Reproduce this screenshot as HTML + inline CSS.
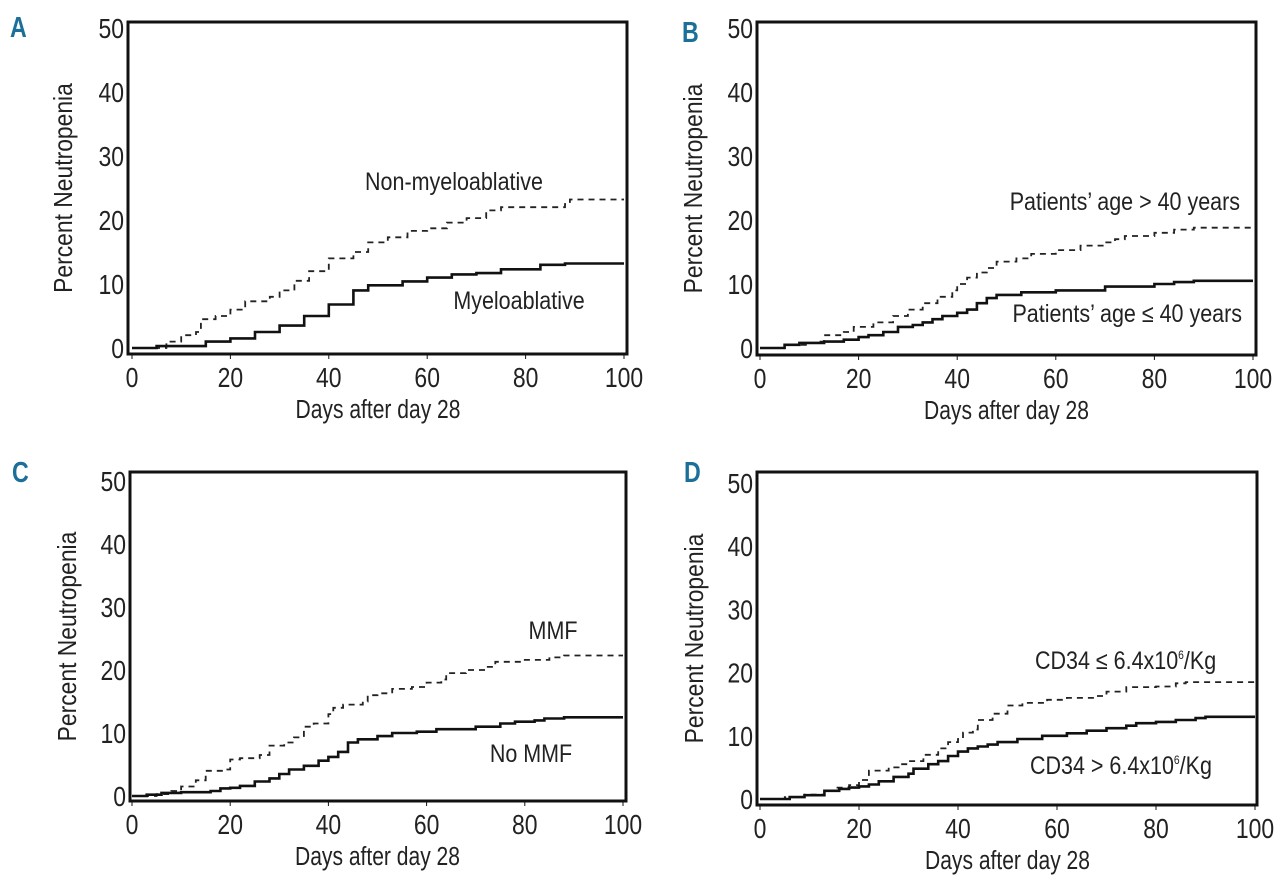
<!DOCTYPE html>
<html><head><meta charset="utf-8"><style>
html,body{margin:0;padding:0;background:#fff;}
svg{display:block;}
text{font-family:"Liberation Sans Narrow","Liberation Sans",sans-serif;fill:#222;}
.tick{font-size:28px;}
.title{font-size:26px;}
.lab{font-size:25px;}
.letter{font-family:"Liberation Sans Narrow","Liberation Sans",sans-serif;font-weight:bold;font-size:29px;fill:#1c6f98;}
</style></head><body>
<svg id="chart" width="1280" height="875" viewBox="0 0 1280 875" xmlns="http://www.w3.org/2000/svg"></svg>
<script>
const xTicks=[0,20,40,60,80,100];
const yTicks=[0,10,20,30,40,50];
const aSolidX=[0,5,15,20,25,30,35,40,45,48,55,60,65,70,75,83,88,100];
const aSolidY=[0,0.3,1,1.5,2.5,3.5,5,6.8,9,9.8,10.4,11,11.5,11.7,12.3,13,13.2,13.2];
const aDashX=[0,5,7,10,13,14,17,20,23,28,30,33,36,40,45,48,52,56,60,64,68,72,75,88,89,100];
const aDashY=[0,0,1,2,2.5,4.5,5,6,7.3,8,9,10.5,12,14,15,16.5,17.3,18.3,18.7,19.6,20.3,21.5,22,22.5,23.2,23.2];
const bSolidX=[0,5,8,13,17,20,22,25,28,31,33,35,37,40,42,44,46,48,53,60,70,80,84,88,100];
const bSolidY=[0,0.5,0.8,1,1.3,1.7,2,2.5,3.3,3.6,4,4.5,5,5.5,6,7,7.8,8.3,8.7,9,9.6,10,10.3,10.5,10.5];
const bDashX=[0,5,10,12,13,17,19,23,27,30,33,36,39,40,42,44,46,48,52,55,60,65,70,72,74,80,84,88,100];
const bDashY=[0,0.5,0.8,1,2,2.5,3.3,4,5,6,7,8,9,10,11,11.8,12.5,13.5,14,14.7,15.3,16,16.5,17,17.5,18,18.5,18.8,18.8];
const cSolidX=[0,3,6,10,16,18,20,22,25,28,30,32,35,38,40,42,44,46,50,53,58,62,70,75,78,82,84,88,100];
const cSolidY=[0,0.2,0.5,0.6,0.8,1.2,1.3,1.6,2.3,2.8,3.5,4.2,4.8,5.6,6.2,7,8.5,9,9.5,10,10.2,10.6,11,11.5,11.8,12,12.3,12.5,12.5];
const cDashX=[0,5,8,10,13,15,19,20,22,26,28,31,33,35,37,40,41,43,47,48,50,53,57,60,63,64,68,72,74,80,85,88,100];
const cDashY=[0,0.3,0.8,1.5,2.5,4,4.2,5.8,6,6.5,8,8.5,9.3,11,11.5,13,14,14.5,15,16,16.3,17,17.3,18,18.5,19.5,20,20.5,21.3,21.6,22,22.3,22.3];
const dSolidX=[0,6,9,13,16,18,20,22,24,27,30,31,34,36,38,40,42,44,46,48,52,57,62,66,70,74,76,80,84,88,90,100];
const dSolidY=[0,0.3,0.6,1.3,1.6,1.8,2,2.3,2.8,3.5,4,4.8,5.5,6,6.8,7.5,8,8.3,8.6,9,9.5,10,10.4,10.8,11.2,11.6,12,12.2,12.5,12.8,13,13];
const dDashX=[0,5,9,13,15,18,20,22,26,28,30,33,36,38,40,41,43,44,47,50,53,58,62,68,70,74,80,84,86,100];
const dDashY=[0,0.3,0.7,1.3,1.8,2.2,3,4.5,5,5.5,6,7,8,9,9.5,10.5,11,12.5,13.5,14.8,15.2,15.7,16,16.3,17,17.7,17.8,18.3,18.5,18.5];

const panels=[
 {id:'a',letter:'A',lx:10,ly:37,fl:128,ft:22,fr:627,fb:354,x0:132,x1:624,y0:348,y50:28,yt:72,
  sx:aSolidX,sy:aSolidY,dx:aDashX,dy:aDashY,
  labs:[{t:'Non-myeloablative',x:454,y:190,a:'middle',n:'label-non-myeloablative'},{t:'Myeloablative',x:519,y:309,a:'middle',n:'label-myeloablative'}]},
 {id:'b',letter:'B',lx:682,ly:42,fl:757,ft:22,fr:1256,fb:355,x0:760,x1:1253,y0:348,y50:28,yt:702,
  sx:bSolidX,sy:bSolidY,dx:bDashX,dy:bDashY,
  labs:[{t:'Patients’ age > 40 years',x:1240,y:210,a:'end',n:'label-age-over-40'},{t:'Patients’ age ≤ 40 years',x:1242,y:322,a:'end',n:'label-age-40-or-under'}]},
 {id:'c',letter:'C',lx:12,ly:482,fl:130,ft:472,fr:626,fb:801,x0:132,x1:623,y0:796,y50:481,yt:76,
  sx:cSolidX,sy:cSolidY,dx:cDashX,dy:cDashY,
  labs:[{t:'MMF',x:553,y:639,a:'middle',n:'label-mmf'},{t:'No MMF',x:531,y:762,a:'middle',n:'label-no-mmf'}]},
 {id:'d',letter:'D',lx:684,ly:482,fl:757,ft:472,fr:1257,fb:805,x0:760,x1:1255,y0:799,y50:483,yt:703,
  sx:dSolidX,sy:dSolidY,dx:dDashX,dy:dDashY,
  labs:[{t:'CD34 ≤ 6.4x10<tspan font-size="12" dy="-10">6</tspan><tspan dy="10">/Kg</tspan>',x:1035,y:669,a:'start',n:'label-cd34-low'},{t:'CD34 > 6.4x10<tspan font-size="12" dy="-10">6</tspan><tspan dy="10">/Kg</tspan>',x:1030,y:774,a:'start',n:'label-cd34-high'}]}
];
const NS='http://www.w3.org/2000/svg';
const svg=document.getElementById('chart');
function mk(tag,attrs,parent){const e=document.createElementNS(NS,tag);for(const k in attrs)e.setAttribute(k,attrs[k]);parent.appendChild(e);return e;}
function stxt(parent,x,y,sx,cls,anchor,rot){
 let tr='translate('+x+' '+y+')'+(rot?' rotate(-90)':'')+' scale('+sx+' 1)';
 return mk('text',{x:0,y:0,class:cls,'text-anchor':anchor,transform:tr},parent);
}
function stepPath(xs,ys,X,Y){let d='M'+X(xs[0]).toFixed(1)+','+Y(ys[0]).toFixed(1);for(let i=1;i<xs.length;i++){d+=' H'+X(xs[i]).toFixed(1)+' V'+Y(ys[i]).toFixed(1);}return d;}
panels.forEach(p=>{
 const X=v=>p.x0+(p.x1-p.x0)*v/100;
 const Y=v=>p.y0+(p.y50-p.y0)*v/50;
 const g=mk('g',{},svg);
 
 
 const L=stxt(g,p.lx,p.ly,0.8,'letter','start');L.textContent=p.letter;
 
 
 const fr=mk('rect',{x:p.fl,y:p.ft,width:p.fr-p.fl,height:p.fb-p.ft,fill:'none',stroke:'#111','stroke-width':3},g);
 
 
 xTicks.forEach(t=>{
  mk('line',{x1:X(t),x2:X(t),y1:p.fb,y2:p.fb+5,stroke:'#111','stroke-width':1},g);
  const tx=stxt(g,X(t),p.fb+33,0.82,'tick','middle');tx.textContent=t;
  
  
 });
 yTicks.forEach(t=>{
  const ty=stxt(g,p.fl-4,Y(t)+10,0.82,'tick','end');ty.textContent=t;
  
  
 });
 const xt=stxt(g,(p.x0+p.x1)/2,p.fb+64,0.81,'title','middle');xt.textContent='Days after day 28';
 
 
 const ym=(p.ft+p.fb)/2;
 const yt=stxt(g,p.yt,ym,0.88,'title','middle',true);yt.textContent='Percent Neutropenia';
 
 
 const ds=mk('path',{d:stepPath(p.dx,p.dy,X,Y),fill:'none',stroke:'#222','stroke-width':1.8,'stroke-dasharray':'6,5'},g);
 
 
 const ss=mk('path',{d:stepPath(p.sx,p.sy,X,Y),fill:'none',stroke:'#111','stroke-width':2.6},g);
 
 
 p.labs.forEach(l=>{
  const t=stxt(g,l.x,l.y,0.86,'lab',l.a);t.innerHTML=l.t;
  
  
 });
});
</script>
</body></html>
